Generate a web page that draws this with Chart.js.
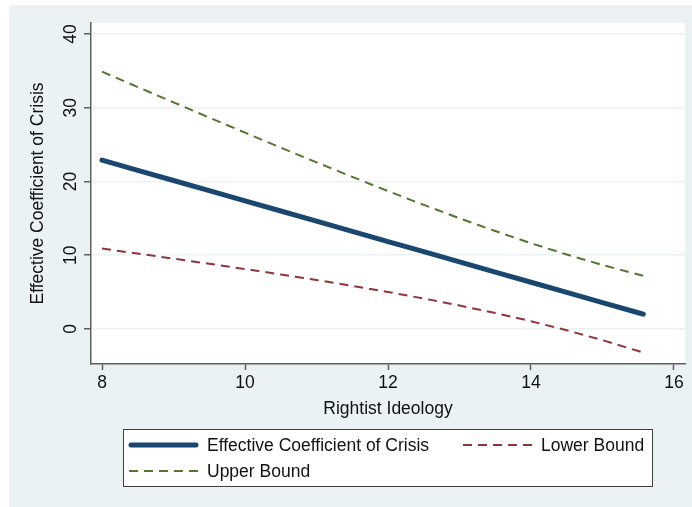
<!DOCTYPE html>
<html>
<head>
<meta charset="utf-8">
<script src="https://cdn.jsdelivr.net/npm/chart.js@4/dist/chart.umd.min.js"></script>
<style>
  html, body { margin: 0; padding: 0; background: #ffffff; }
  #wrap { width: 692px; height: 507px; }
</style>
</head>
<body>
<div id="wrap"><canvas id="crisis-chart" width="692" height="507"></canvas></div>
<script>
var ideology = [8, 8.5, 9, 9.5, 10, 10.5, 11, 11.5, 12, 12.5, 13, 13.5, 14, 14.5, 15, 15.5, 15.57];
var effect = [22.9, 21.52, 20.14, 18.76, 17.38, 16.0, 14.62, 13.24, 11.86, 10.48, 9.1, 7.72, 6.34, 4.96, 3.58, 2.2, 2.01];
var lowerBound = [10.9, 10.23, 9.54, 8.85, 8.13, 7.4, 6.64, 5.85, 5.02, 4.13, 3.19, 2.16, 1.05, -0.18, -1.52, -2.99, -3.2];
var upperBound = [34.9, 32.81, 30.74, 28.67, 26.63, 24.6, 22.6, 20.63, 18.7, 16.83, 15.01, 13.28, 11.63, 10.1, 8.68, 7.39, 7.22];
var xTicks = [8, 10, 12, 14, 16];
var yTicks = [0, 10, 20, 30, 40];

var font = "'Liberation Sans', Arial, sans-serif";
var fontSize = 17.5;
var bgColor = "#EAF2F3";
var axisColor = "#5E5E5E";

function points(ys) {
    return ideology.map(function (x, i) { return { x: x, y: ys[i] }; });
}

// stata-style background + boxed legend
var stataLook = {
    id: "stataLook",
    beforeDraw: function (chart) {
        var ctx = chart.ctx, a = chart.chartArea;
        ctx.save();
        ctx.fillStyle = "#ffffff";
        ctx.fillRect(0, 0, chart.width, chart.height);
        ctx.fillStyle = bgColor;
        ctx.fillRect(9, 5, chart.width - 9, chart.height - 5);
        ctx.fillStyle = "#ffffff";
        ctx.fillRect(a.left, a.top, a.right - a.left, a.bottom - a.top);
        ctx.restore();
    },
    afterDraw: function (chart) {
        var ctx = chart.ctx;
        var ds = chart.data.datasets;
        ctx.save();
        ctx.fillStyle = "#ffffff";
        ctx.fillRect(123, 429, 529, 57);
        ctx.strokeStyle = "#404040";
        ctx.lineWidth = 1;
        ctx.strokeRect(123.5, 429.5, 529, 57);
        var slots = [[129, 445], [463, 445], [129, 471]];
        ds.forEach(function (d, i) {
            var s = slots[i];
            var dashed = d.borderDash.length > 0;
            ctx.beginPath();
            ctx.strokeStyle = d.borderColor;
            ctx.lineWidth = d.borderWidth;
            ctx.lineCap = dashed ? "butt" : "round";
            ctx.setLineDash(d.borderDash);
            ctx.moveTo(s[0] + (dashed ? 0 : 2), s[1]);
            ctx.lineTo(s[0] + 69 - (dashed ? 0 : 2), s[1]);
            ctx.stroke();
            ctx.setLineDash([]);
            ctx.fillStyle = "#111111";
            ctx.font = fontSize + "px " + font;
            ctx.textBaseline = "middle";
            ctx.textAlign = "left";
            ctx.fillText(d.label, s[0] + 78, s[1] + 1);
        });
        ctx.restore();
    }
};

var config = {
    type: "line",
    data: {
        datasets: [
            {
                label: "Effective Coefficient of Crisis",
                data: points(effect),
                borderColor: "#1A476F",
                borderWidth: 5,
                borderDash: [],
                borderCapStyle: "round",
                pointRadius: 0,
                tension: 0
            },
            {
                label: "Lower Bound",
                data: points(lowerBound),
                borderColor: "#90353B",
                borderWidth: 2,
                borderDash: [9, 6],
                pointRadius: 0,
                tension: 0
            },
            {
                label: "Upper Bound",
                data: points(upperBound),
                borderColor: "#55752F",
                borderWidth: 2,
                borderDash: [9, 6],
                pointRadius: 0,
                tension: 0
            }
        ]
    },
    options: {
        responsive: false,
        animation: false,
        layout: { padding: { top: 23, right: 7, left: 0, bottom: 0 } },
        plugins: { legend: { display: false }, tooltip: { enabled: false } },
        scales: {
            x: {
                type: "linear",
                min: 7.846,
                max: 16.154,
                afterBuildTicks: function (s) { s.ticks = xTicks.map(function (v) { return { value: v }; }); },
                afterFit: function (s) { s.height = 143; },
                ticks: { color: "#111111", font: { family: font, size: fontSize }, padding: 3, maxRotation: 0 },
                grid: { drawOnChartArea: false, tickLength: 6, tickColor: axisColor, tickWidth: 1.5 },
                border: { color: axisColor, width: 1.5 },
                title: {
                    display: true,
                    text: "Rightist Ideology",
                    color: "#111111",
                    font: { family: font, size: fontSize },
                    padding: { top: 0, bottom: 87 }
                }
            },
            y: {
                type: "linear",
                min: -4.75,
                max: 41.5,
                afterBuildTicks: function (s) { s.ticks = yTicks.map(function (v) { return { value: v }; }); },
                afterFit: function (s) { s.width = 91; },
                ticks: {
                    color: "#111111",
                    font: { family: font, size: fontSize },
                    minRotation: 90,
                    maxRotation: 90,
                    crossAlign: "center",
                    padding: 3
                },
                grid: { color: bgColor, lineWidth: 1.5, tickLength: 7, tickColor: axisColor, tickWidth: 1.5 },
                border: { color: axisColor, width: 1.5 },
                title: {
                    display: true,
                    text: "Effective Coefficient of Crisis",
                    color: "#111111",
                    font: { family: font, size: fontSize },
                    padding: { top: 28, bottom: 0 }
                }
            }
        }
    },
    plugins: [stataLook]
};

var crisisChart = new Chart(document.getElementById("crisis-chart"), config);
</script>
</body>
</html>
